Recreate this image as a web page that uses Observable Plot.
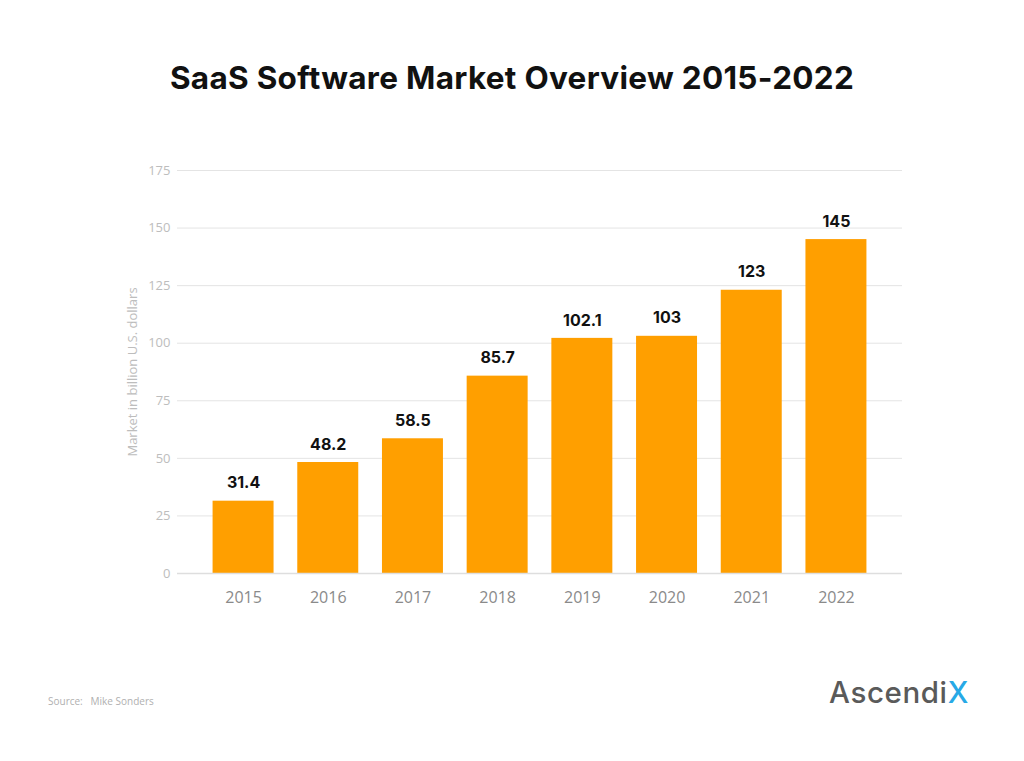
<!DOCTYPE html>
<html>
<head>
<meta charset="utf-8">
<script src="https://cdn.jsdelivr.net/npm/d3@7"></script>
<script src="https://cdn.jsdelivr.net/npm/@observablehq/plot@0.6"></script>
<style>
  html, body { margin: 0; padding: 0; background: #fff; }
  body { width: 1024px; height: 761px; position: relative; overflow: hidden; font-family: Inter, "Open Sans", sans-serif; }
  #title { position: absolute; left: 0; top: 58px; width: 1024px; text-align: center; font: 700 31.5px Inter, sans-serif; color: #111; letter-spacing: 0.3px; margin: 0; }
  #chart { position: absolute; left: 0; top: 130px; }
  #source { position: absolute; left: 48px; top: 694px; font: 10px "Open Sans", sans-serif; color: #b0b0b0; }
  #logo { position: absolute; left: 829px; top: 674px; font: 500 29.5px Inter, sans-serif; color: #5a5a5a; letter-spacing: 0.6px; }
  #logo span { color: #27a9e6; }
</style>
</head>
<body>
<h1 id="title">SaaS Software Market Overview 2015-2022</h1>
<div id="chart"></div>
<div id="source">Source:&nbsp;&nbsp;&nbsp;Mike Sonders</div>
<div id="logo">Ascendi<span>X</span></div>
<script>
const years = ["2015", "2016", "2017", "2018", "2019", "2020", "2021", "2022"];
const values = [31.4, 48.2, 58.5, 85.7, 102.1, 103, 123, 145];
const yTicks = [0, 25, 50, 75, 100, 125, 150, 175];
const data = years.map((y, i) => ({year: y, value: values[i]}));

const chart = Plot.plot({
  width: 1024,
  height: 500,
  marginLeft: 177,
  marginRight: 122,
  marginTop: 40,
  marginBottom: 57,
  style: {fontFamily: "'Open Sans', sans-serif", background: "transparent"},
  x: {domain: years, paddingInner: 0.28, paddingOuter: 0.42, round: false, label: null, tickSize: 0, tickPadding: 18},
  y: {domain: [0, 175], ticks: yTicks, label: "Market in billion U.S. dollars", labelAnchor: "center", labelOffset: 49, labelArrow: "none", tickSize: 0, tickPadding: 7},
  marks: [
    Plot.gridY(yTicks.filter(d => d > 0), {stroke: "#e4e4e4", strokeOpacity: 1}),
    Plot.barY(data, {x: "year", y: "value", fill: "#ff9f00"}),
    Plot.ruleY([0], {stroke: "#dedede", strokeWidth: 1.5}),
    Plot.axisX({tickSize: 0, tickPadding: 18, fontSize: 16, color: "#8a8a8a", label: null}),
    Plot.axisY({ticks: yTicks, tickSize: 0, tickPadding: 7, fontSize: 13, color: "#bdbdbd", label: "Market in billion U.S. dollars", labelAnchor: "center", labelOffset: 50, labelArrow: "none"}),
    Plot.text(data, {x: "year", y: "value", text: d => String(d.value), dy: -18, fontSize: 16, fontWeight: 700, fill: "#111", fontFamily: "Inter, sans-serif"})
  ]
});
document.getElementById("chart").appendChild(chart);
</script>
</body>
</html>
